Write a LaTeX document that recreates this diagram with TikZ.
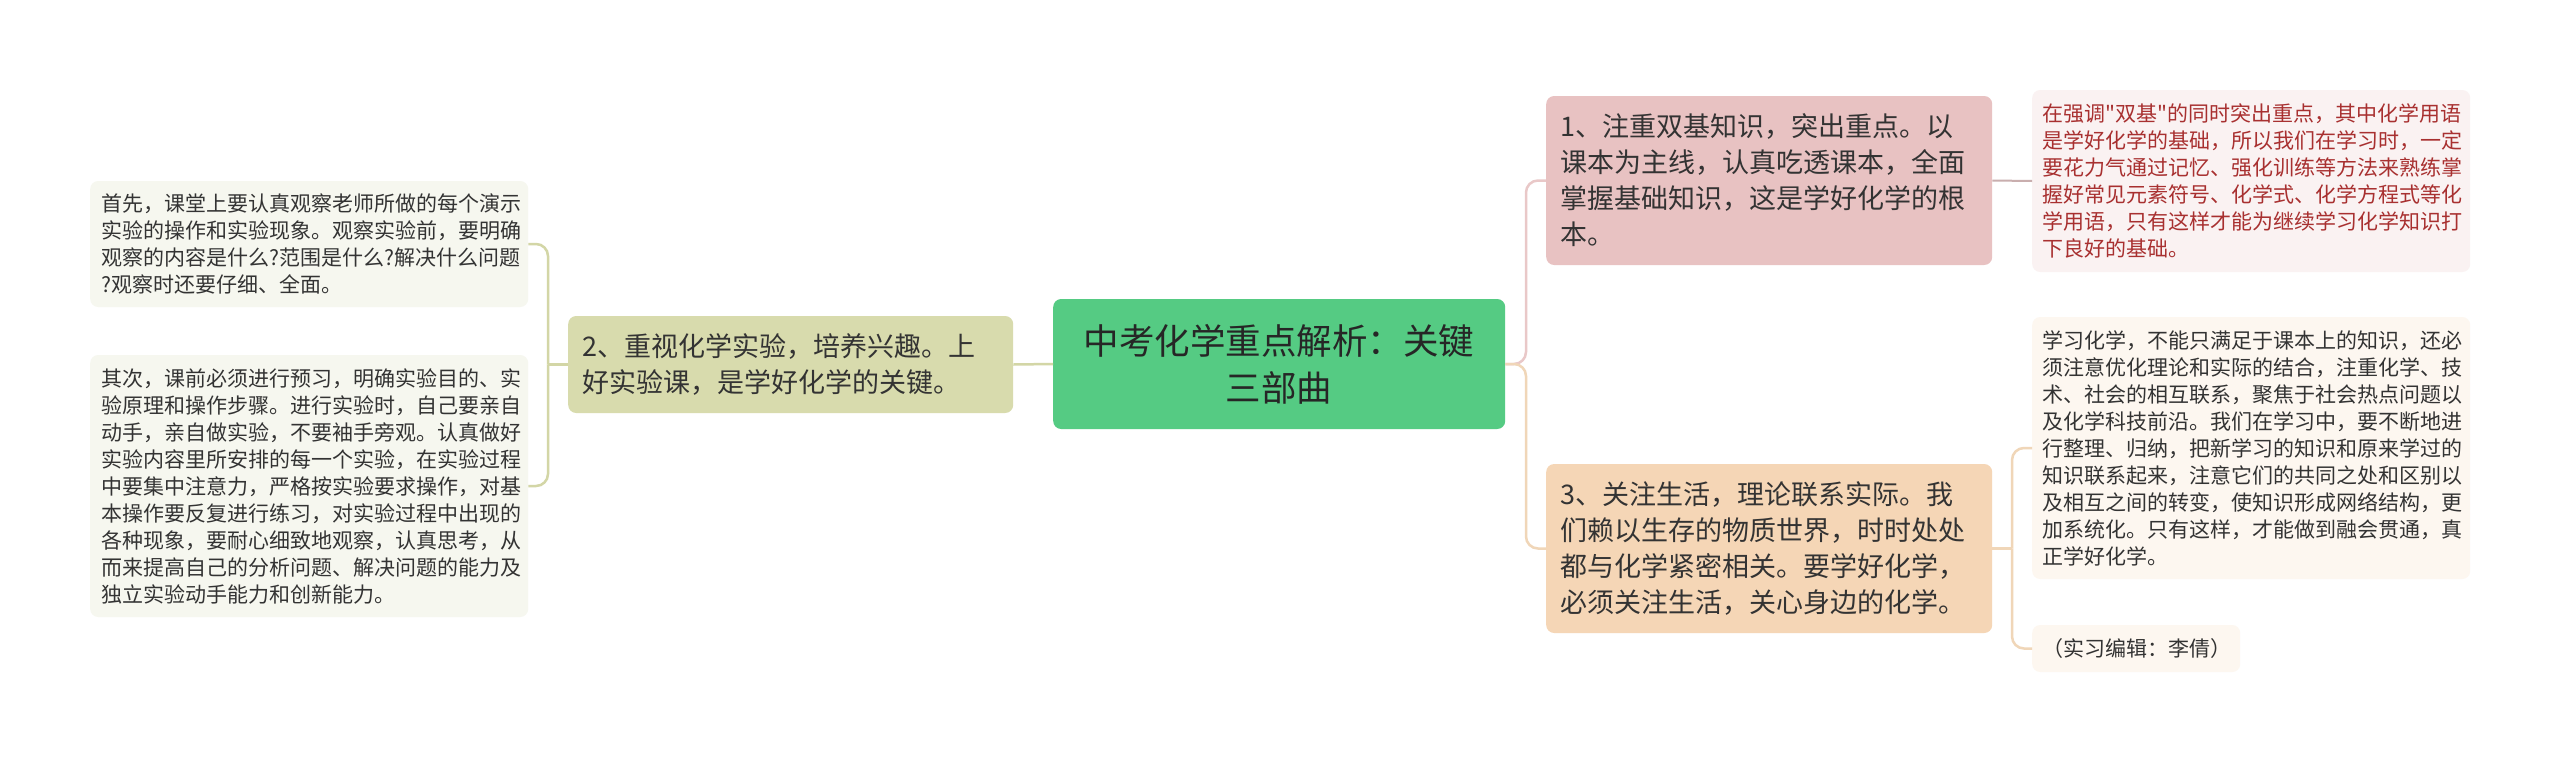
\documentclass[tikz,border=0pt]{standalone}
\usepackage{fontspec}
\newfontfamily\cjk{Noto Sans CJK SC}
\definecolor{cgreen}{HTML}{55CB83}
\definecolor{olivefill}{HTML}{D8DBAD}
\definecolor{oliveleaf}{HTML}{F6F7EF}
\definecolor{oliveline}{HTML}{D3D6A6}
\definecolor{pinkfill}{HTML}{E8C2C2}
\definecolor{pinkleaf}{HTML}{FAF2F2}
\definecolor{pinkline}{HTML}{E9C8C8}
\definecolor{pinkleafline}{HTML}{C9AEAE}
\definecolor{tanfill}{HTML}{F5D6B6}
\definecolor{tanleaf}{HTML}{FDF7F0}
\definecolor{tanline}{HTML}{F0D6B8}
\definecolor{txt}{HTML}{333333}
\definecolor{redtxt}{HTML}{A83030}
\tikzset{
  box/.style={anchor=west, rounded corners=8pt, align=left, inner ysep=0pt, text=txt, font=\cjk},
  leaffont/.style={font=\cjk\fontsize{21}{27}\selectfont},
  mainfont/.style={font=\cjk\fontsize{27}{36}\selectfont},
  conn/.style={line width=2.5pt, rounded corners=12pt},
}
\begin{document}
\begin{tikzpicture}[x=1pt,y=-1pt]
\useasboundingbox[fill=white] (0,0) rectangle (2560,763);
% central
\node[box, leaffont, fill=cgreen, align=center, text width=420pt, inner xsep=16pt, minimum height=130pt, font=\cjk\fontsize{35.5}{47}\selectfont, text=black!85] (c) at (1053,364) {中考化学重点解析：关键\\三部曲};
% left main
\node[box, mainfont, fill=olivefill, text width=417pt, inner xsep=14pt, minimum height=97pt] (n2) at (568,364.5) {2、重视化学实验，培养兴趣。上\\好实验课，是学好化学的关键。};
\node[box, leaffont, fill=oliveleaf, text width=416pt, inner xsep=11pt, minimum height=126pt] (l1) at (90,244) {首先，课堂上要认真观察老师所做的每个演示\\实验的操作和实验现象。观察实验前，要明确\\观察的内容是什么?范围是什么?解决什么问题\\?观察时还要仔细、全面。};
\node[box, leaffont, fill=oliveleaf, text width=416pt, inner xsep=11pt, minimum height=262pt] (l2) at (90,486) {其次，课前必须进行预习，明确实验目的、实\\验原理和操作步骤。进行实验时，自己要亲自\\动手，亲自做实验，不要袖手旁观。认真做好\\实验内容里所安排的每一个实验，在实验过程\\中要集中注意力，严格按实验要求操作，对基\\本操作要反复进行练习，对实验过程中出现的\\各种现象，要耐心细致地观察，认真思考，从\\而来提高自己的分析问题、解决问题的能力及\\独立实验动手能力和创新能力。};
% right main
\node[box, mainfont, fill=pinkfill, text width=418pt, inner xsep=14pt, minimum height=169pt] (n1) at (1546,180.5) {1、注重双基知识，突出重点。以\\课本为主线，认真吃透课本，全面\\掌握基础知识，这是学好化学的根\\本。};
\node[box, mainfont, fill=tanfill, text width=418pt, inner xsep=14pt, minimum height=169pt] (n3) at (1546,548.5) {3、关注生活，理论联系实际。我\\们赖以生存的物质世界，时时处处\\都与化学紧密相关。要学好化学，\\必须关注生活，关心身边的化学。};
\node[box, leaffont, fill=pinkleaf, text=redtxt, text width=418pt, inner xsep=10pt, minimum height=182pt] (r1) at (2032,181) {在强调"双基"的同时突出重点，其中化学用语\\是学好化学的基础，所以我们在学习时，一定\\要花力气通过记忆、强化训练等方法来熟练掌\\握好常见元素符号、化学式、化学方程式等化\\学用语，只有这样才能为继续学习化学知识打\\下良好的基础。};
\node[box, leaffont, fill=tanleaf, text width=418pt, inner xsep=10pt, minimum height=262pt] (r3a) at (2032,448) {学习化学，不能只满足于课本上的知识，还必\\须注意优化理论和实际的结合，注重化学、技\\术、社会的相互联系，聚焦于社会热点问题以\\及化学科技前沿。我们在学习中，要不断地进\\行整理、归纳，把新学习的知识和原来学过的\\知识联系起来，注意它们的共同之处和区别以\\及相互之间的转变，使知识形成网络结构，更\\加系统化。只有这样，才能做到融会贯通，真\\正学好化学。};
\node[box, leaffont, fill=tanleaf, text width=188pt, inner xsep=10pt, minimum height=47pt] (r3b) at (2032,648.5) {（实习编辑：李倩）};
% junctions
\coordinate (jl) at (548,364.5);
\coordinate (jr) at (1526,364);
\coordinate (j3) at (2012,548.5);
% connectors
\draw[conn, oliveline] (c.west) -- (n2.east);
\draw[conn, oliveline] (n2.west) -- (jl);
\draw[conn, oliveline] (jl) |- (l1.east);
\draw[conn, oliveline] (jl) |- (l2.east);
\draw[conn, pinkline] (c.east) -- (jr) |- (n1.west);
\draw[conn, tanline] (c.east) -- (jr) |- (n3.west);
\draw[line width=2pt, pinkleafline] (n1.east) -- (r1.west);
\draw[conn, tanline] (n3.east) -- (j3);
\draw[conn, tanline] (j3) |- (r3a.west);
\draw[conn, tanline] (j3) |- (r3b.west);
\end{tikzpicture}
\end{document}
